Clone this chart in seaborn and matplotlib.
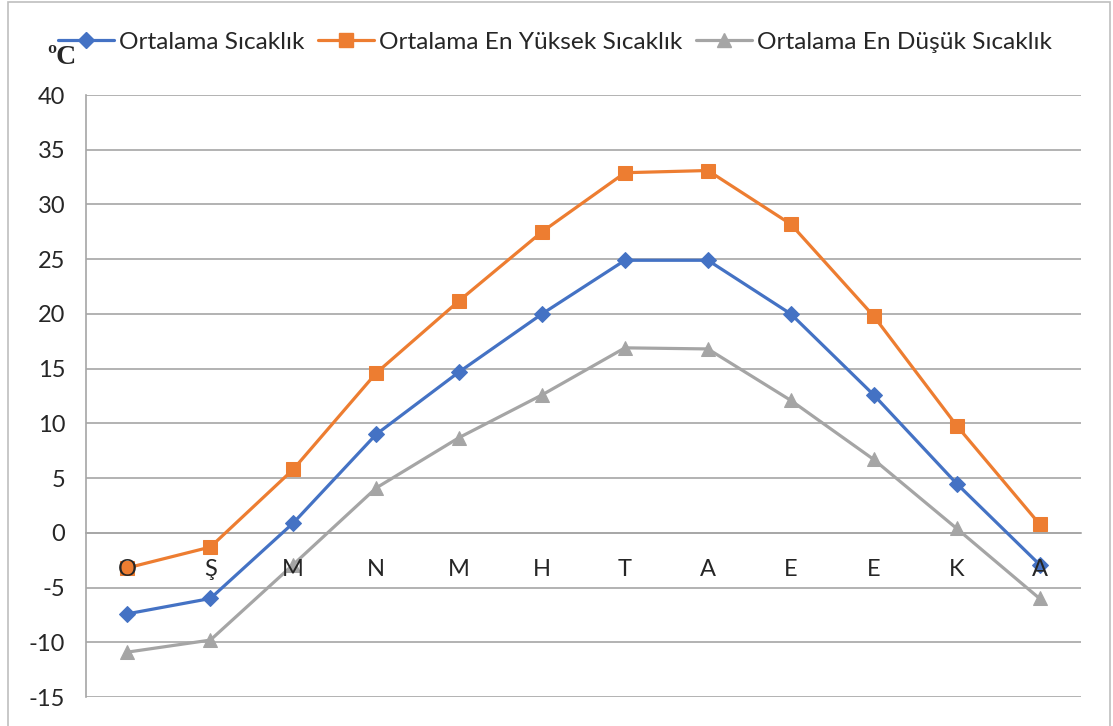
import matplotlib
matplotlib.use("Agg")
import matplotlib.pyplot as plt
import seaborn as sns
import pandas as pd
import numpy as np
from matplotlib.patches import Rectangle
from matplotlib.lines import Line2D

months = ["O", "Ş", "M", "N", "M", "H", "T", "A", "E", "E", "K", "A"]
avg_temp = [-7.4, -6.0, 0.9, 9.0, 14.7, 20.0, 24.9, 24.9, 20.0, 12.6, 4.5, -2.9]
avg_max = [-3.2, -1.3, 5.8, 14.6, 21.2, 27.5, 32.9, 33.1, 28.2, 19.8, 9.8, 0.8]
avg_min = [-10.9, -9.8, -2.9, 4.1, 8.7, 12.6, 16.9, 16.8, 12.1, 6.7, 0.4, -6.0]
series_names = ["Ortalama Sıcaklık", "Ortalama En Yüksek Sıcaklık", "Ortalama En Düşük Sıcaklık"]
colors = ["#4472C4", "#ED7D31", "#A5A5A5"]
markers = ["D", "s", "^"]
y_ticks = list(range(-15, 41, 5))

sns.set_theme(style="white")
plt.rcParams["font.family"] = ["Lato", "DejaVu Sans"]

rows = []
for name, vals in zip(series_names, [avg_temp, avg_max, avg_min]):
    for i, v in enumerate(vals):
        rows.append({"idx": i, "temp": v, "series": name})
df = pd.DataFrame(rows)

fig = plt.figure(figsize=(11.13, 7.26), dpi=100)
ax = fig.add_axes([86 / 1113, 1 - 697 / 726, (1081 - 86) / 1113, (697 - 95) / 726])

grid_c = "#A6A6A6"
for s in ["top", "right"]:
    ax.spines[s].set_visible(False)
ax.spines["bottom"].set_position(("data", 0))
ax.spines["bottom"].set_color(grid_c)
ax.spines["bottom"].set_linewidth(1.2)
ax.spines["left"].set_color(grid_c)
ax.spines["left"].set_linewidth(1.2)

for yv in y_ticks:
    ax.axhline(yv, color=grid_c, lw=1.2, zorder=0)

msizes = {"D": 8.5, "s": 10.5, "^": 10.5}
for name, c, m in zip(series_names, colors, markers):
    sub = df[df["series"] == name]
    sns.lineplot(data=sub, x="idx", y="temp", ax=ax, color=c, lw=2.3,
                 marker=m, markersize=msizes[m], markeredgecolor=c,
                 zorder=3, legend=False)

ax.set_xlim(-0.5, 11.5)
ax.set_ylim(-15, 40)
ax.set_yticks(y_ticks)
ax.set_yticklabels([str(v) for v in y_ticks], fontsize=17)
ax.set_xticks(range(12))
ax.set_xticklabels(months, fontsize=17)
ax.set_xticks(np.arange(-0.5, 12, 1.0), minor=True)
ax.tick_params(axis="x", which="major", length=0, pad=19)
ax.tick_params(axis="x", which="minor", length=7, width=1.2, color=grid_c, direction="out")
ax.tick_params(axis="y", length=7, width=1.2, color=grid_c, direction="out", pad=8)
ax.set_xlabel("")
ax.set_ylabel("")
ax.xaxis.set_zorder(4)

handles = [Line2D([], [], color=c, lw=2.3, marker=m, markersize=msizes[m], markeredgecolor=c)
           for c, m in zip(colors, markers)]
fig.legend(handles, series_names, loc="center", bbox_to_anchor=(555 / 1113, 1 - 42 / 726),
           ncol=3, frameon=False, fontsize=17.6, handlelength=2.3, handletextpad=0.2,
           columnspacing=0.55)

fig.text(47 / 1113, 1 - 57 / 726, "ºC", fontsize=20, fontweight="bold",
         family="Liberation Serif", ha="left", va="center")

fig.patches.append(Rectangle((8 / 1113, -0.01), (1110 - 8) / 1113, 1.01 - 2 / 726,
                             transform=fig.transFigure, fill=False, ec="#BFBFBF", lw=1.2))

fig.savefig("out.png", dpi=100)
